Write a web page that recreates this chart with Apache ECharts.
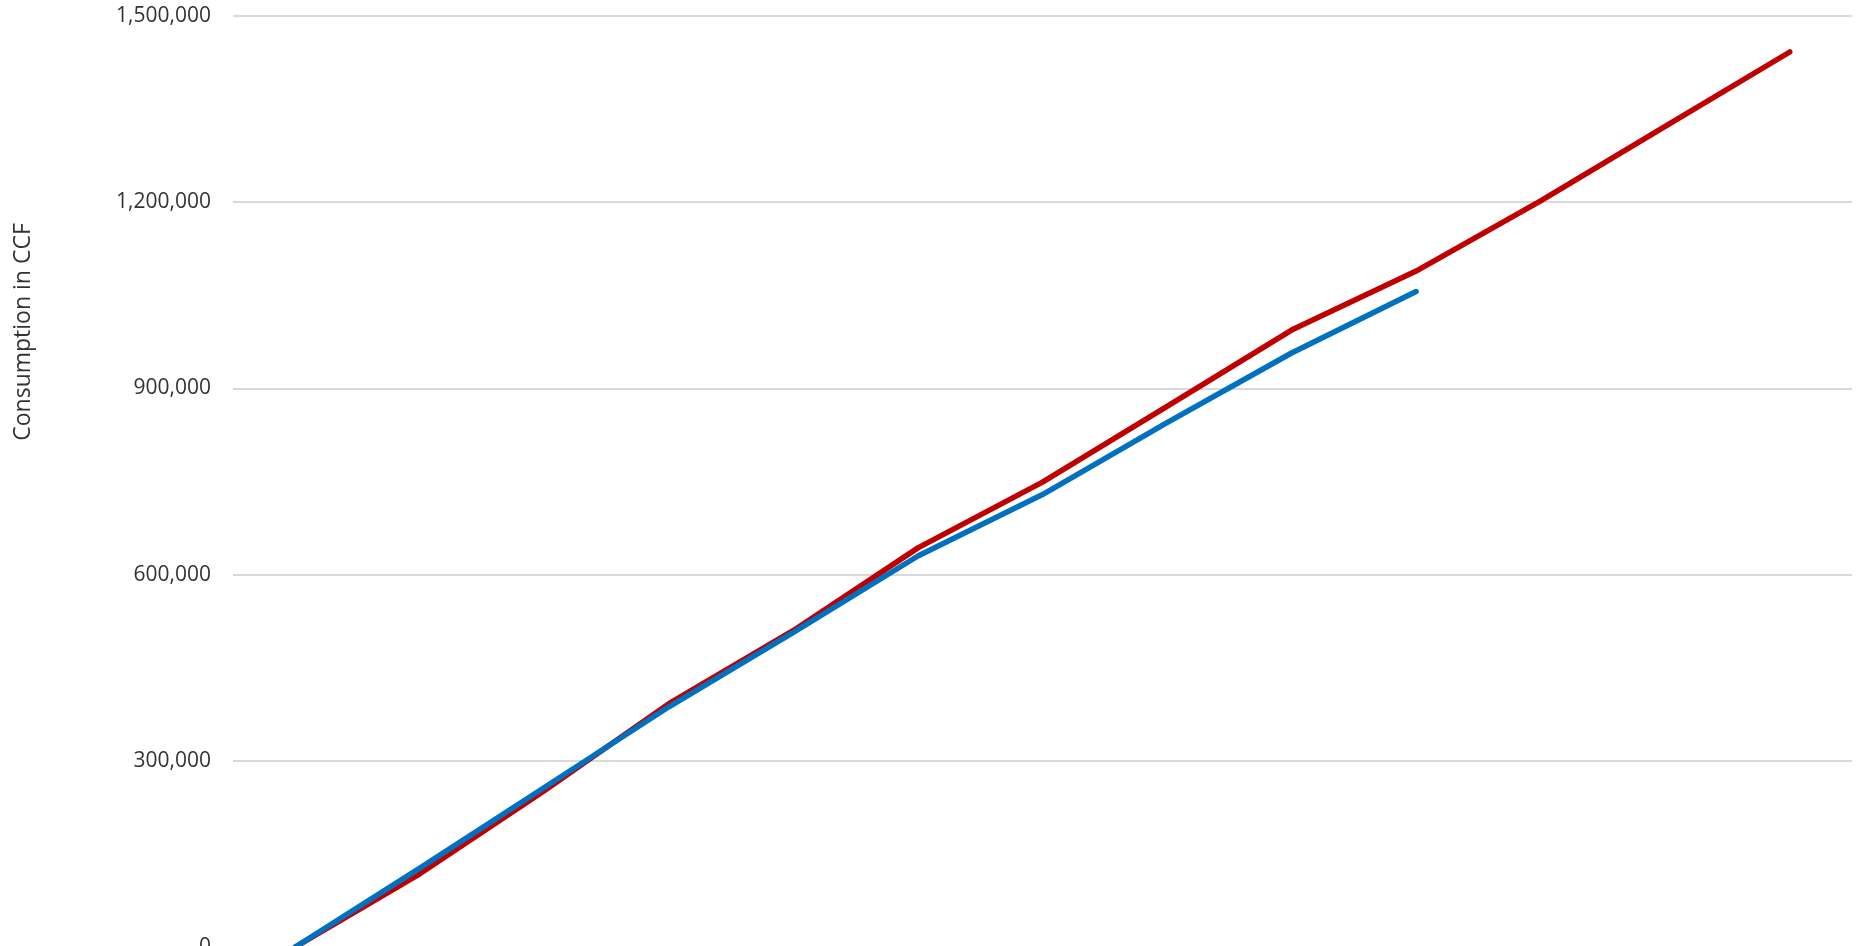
<!DOCTYPE html>
<html>
<head>
<meta charset="utf-8">
<script src="https://cdn.jsdelivr.net/npm/echarts@6/dist/echarts.min.js"></script>
<style>
  html, body { margin: 0; padding: 0; background: #fff; }
  #chart { width: 1868px; height: 946px; }
</style>
</head>
<body>
<div id="chart"></div>
<script>
// periods on the x axis (labels fall below the visible area)
const periods = ['0', '1', '2', '3', '4', '5', '6', '7', '8', '9', '10', '11', '12'];
// cumulative consumption, CCF
const redSeries = [0, 118000, 252000, 392000, 510000, 643000, 749000, 871000, 994000, 1089000, 1202000, 1322000, 1442000];
const blueSeries = [0, 127000, 257000, 387000, 507000, 630000, 729000, 845000, 957000, 1056000];
const yTicks = { min: 0, max: 1500000, interval: 300000 };
const yTitle = 'Consumption in CCF';

const chart = echarts.init(document.getElementById('chart'));

const option = {
  animation: false,
  grid: { left: 233, right: 16, top: 16, bottom: -1, containLabel: false, outerBoundsMode: 'none' },
  xAxis: {
    type: 'category',
    data: periods,
    boundaryGap: true,
    axisLine: { show: false },
    axisTick: { show: false },
    axisLabel: { show: false }
  },
  yAxis: {
    type: 'value',
    min: yTicks.min,
    max: yTicks.max,
    interval: yTicks.interval,
    axisLine: { show: false },
    axisTick: { show: false },
    axisLabel: {
      margin: 22,
      color: '#333333',
      fontFamily: 'Open Sans',
      fontSize: 21,
      formatter: (v) => v.toLocaleString('en-US')
    },
    splitLine: { lineStyle: { color: '#d9d9d9', width: 2 } }
  },
  graphic: [{
    type: 'text',
    x: 23,
    y: 332,
    rotation: Math.PI / 2,
    style: {
      text: yTitle,
      fill: '#333333',
      font: '23px "Open Sans"',
      align: 'center',
      verticalAlign: 'middle',
      textAlign: 'center',
      textVerticalAlign: 'middle'
    }
  }],
  series: [
    {
      name: 'Red',
      type: 'line',
      data: redSeries,
      symbol: 'none',
      lineStyle: { color: '#c00000', width: 5.5, cap: 'round', join: 'round' }
    },
    {
      name: 'Blue',
      type: 'line',
      data: blueSeries,
      symbol: 'none',
      lineStyle: { color: '#0070c0', width: 5.5, cap: 'round', join: 'round' }
    }
  ]
};

chart.setOption(option);
</script>
</body>
</html>
